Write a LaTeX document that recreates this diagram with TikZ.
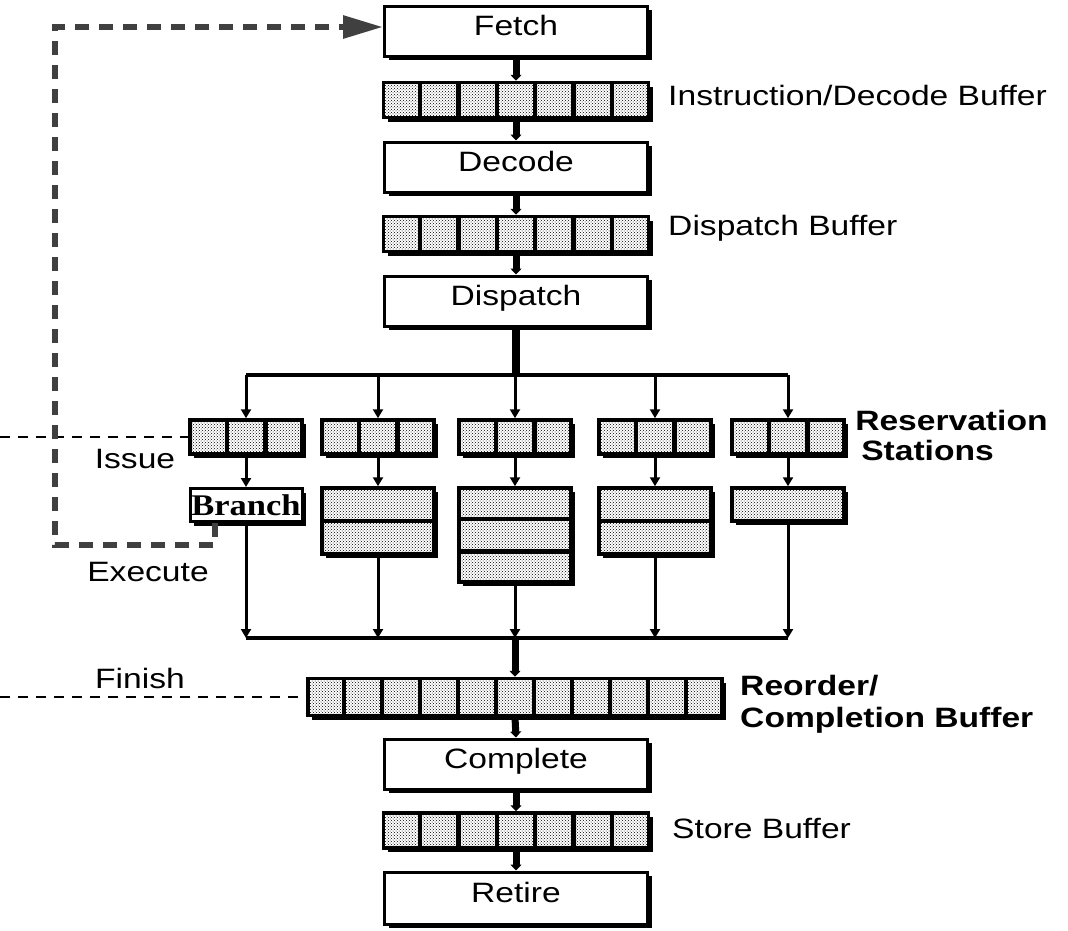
\documentclass[tikz,border=0pt]{standalone}
\usepackage{graphicx}
\usepackage{fontspec}
\setmainfont{Liberation Sans}
\newfontfamily\serifbold{Liberation Serif}
\usetikzlibrary{arrows.meta,shadows,patterns,calc}
\newcommand\wide[1]{\scalebox{1.2}[1]{#1}}
\begin{document}
\begin{tikzpicture}[x=1pt,y=-1pt,
  shadowed/.style={drop shadow={shadow xshift=4pt,shadow yshift=-4pt,fill=black,opacity=1}},
  stage/.style={shadowed,draw,line width=3pt,fill=white,minimum width=263pt,minimum height=50pt,
    inner sep=0pt,text height=20pt,text depth=12pt,font=\fontsize{28}{30}\selectfont},
  buf/.style={shadowed,preaction={fill=white},preaction={pattern=crosshatch dots,pattern color=black},
    draw,line width=3.5pt,inner sep=0pt},
  divider/.style={line width=4.5pt},
  lbl/.style={inner sep=0pt,xscale=1.2,font=\fontsize{28}{32}\selectfont,align=left},
  blbl/.style={lbl,font=\bfseries\fontsize{28}{32}\selectfont},
  flow/.style={line width=7pt,-{Triangle[length=6pt,width=11pt]}},
  trunk/.style={line width=8pt},
  bus/.style={line width=3.5pt},
  drop/.style={line width=3pt,-{Triangle[length=9pt,width=10pt]}},
  fb/.style={line width=6pt,draw=black!75,dash pattern=on 14pt off 10pt,-{Triangle[length=40pt,width=22pt]}},
  stageline/.style={line width=1.5pt,dash pattern=on 10pt off 8pt}]
\useasboundingbox (0,0) rectangle (1068,930);

% pipeline stages and buffers
\node[stage] (fetch) at (516,31) {\wide{Fetch}};
\node[buf,minimum width=265pt,minimum height=35pt] (ib) at (516,100) {};
\node[stage] (decode) at (516,167) {\wide{Decode}};
\node[buf,minimum width=265pt,minimum height=35pt] (db) at (516,234) {};
\node[stage] (dispatch) at (516,301) {\wide{Dispatch}};

% reservation stations
\node[buf,minimum width=112pt,minimum height=34pt] (rs1) at (246,437) {};
\node[buf,minimum width=112pt,minimum height=34pt] (rs2) at (378,437) {};
\node[buf,minimum width=112pt,minimum height=34pt] (rs3) at (515,437) {};
\node[buf,minimum width=112pt,minimum height=34pt] (rs4) at (655,437) {};
\node[buf,minimum width=112pt,minimum height=34pt] (rs5) at (788,437) {};

% functional units
\node[shadowed,draw,line width=3pt,fill=white,minimum width=112pt,minimum height=33pt,inner sep=0pt,
  font=\serifbold\bfseries\fontsize{30}{30}\selectfont] (branch) at (246,505) {\scalebox{1.15}[1]{Branch}};
\node[buf,minimum width=112pt,minimum height=66pt] (fu2) at (378,521) {};
\node[buf,minimum width=112pt,minimum height=94pt] (fu3) at (515,535) {};
\node[buf,minimum width=112pt,minimum height=66pt] (fu4) at (655,521) {};
\node[buf,minimum width=112pt,minimum height=33pt] (fu5) at (788,504.5) {};

% reorder buffer, complete, store buffer, retire
\node[buf,minimum width=414pt,minimum height=37pt] (rob) at (515,697) {};
\node[stage,minimum height=50pt] (complete) at (516,764) {\wide{Complete}};
\node[buf,minimum width=265pt,minimum height=35pt] (sb) at (516,830.5) {};
\node[stage,minimum height=52pt] (retire) at (516,898) {\wide{Retire}};

% cell dividers
\foreach \n/\k in {ib/7,db/7,sb/7,rob/11,rs1/3,rs2/3,rs3/3,rs4/3,rs5/3}{
  \pgfmathtruncatemacro\m{\k-1}
  \foreach \i in {1,...,\m}
    \draw[divider] ($(\n.north west)!\i/\k!(\n.north east)$) -- ($(\n.south west)!\i/\k!(\n.south east)$);
}
\foreach \n/\k in {fu2/2,fu3/3,fu4/2}{
  \pgfmathtruncatemacro\m{\k-1}
  \foreach \i in {1,...,\m}
    \draw[divider] ($(\n.north west)!\i/\k!(\n.south west)$) -- ($(\n.north east)!\i/\k!(\n.south east)$);
}

% labels
\node[lbl,anchor=west] (ibl) at (668,95) {Instruction/Decode Buffer};
\node[lbl,anchor=west] (dbl) at (668,228) {Dispatch Buffer};
\node[blbl,anchor=west] (rsl) at (855,435) {Reservation\\[-2pt]\hspace*{5pt}Stations};
\node[blbl,anchor=west] (robl) at (740,704) {Reorder/\\Completion Buffer};
\node[lbl,anchor=west] (sbl) at (672,828) {Store Buffer};
\node[lbl] (issue) at (135,459) {Issue};
\node[lbl] (execute) at (148,572) {Execute};
\node[lbl] (finish) at (140,678) {Finish};

% connectors through the pipe
\draw[flow] (fetch.south) -- (ib.north);
\draw[flow] (ib.south) -- (decode.north);
\draw[flow] (decode.south) -- (db.north);
\draw[flow] (db.south) -- (dispatch.north);

\coordinate (bt) at (515,375);
\draw[trunk] (dispatch.south) -- (dispatch.south |- bt);
\draw[bus] (rs1.north |- bt) -- (rs5.north |- bt);
\foreach \r in {rs1,rs2,rs3,rs4,rs5}
  \draw[drop] (\r.north |- bt) -- (\r.north);

\draw[drop] (rs1.south) -- (branch.north);
\draw[drop] (rs2.south) -- (fu2.north);
\draw[drop] (rs3.south) -- (fu3.north);
\draw[drop] (rs4.south) -- (fu4.north);
\draw[drop] (rs5.south) -- (fu5.north);

\coordinate (bb) at (515,638);
\foreach \f in {branch,fu2,fu3,fu4,fu5}
  \draw[drop] (\f.south) -- (\f.south |- bb);
\draw[bus] (branch.south |- bb) -- (fu5.south |- bb);
\draw[flow] (bb) -- (rob.north);

\draw[flow] (rob.south) -- (complete.north);
\draw[flow] (complete.south) -- (sb.north);
\draw[flow] (sb.south) -- (retire.north);

% stage boundary lines
\coordinate (iss) at (0,437);
\coordinate (fin) at (0,697);
\draw[stageline] (iss) -- (rs1.west);
\draw[stageline] (fin) -- (rob.west);

% branch feedback
\coordinate (fbl) at (55,545);
\draw[fb] ([xshift=-31pt]branch.south) |- (fbl) |- ([yshift=4pt]fetch.west);
\end{tikzpicture}
\end{document}
